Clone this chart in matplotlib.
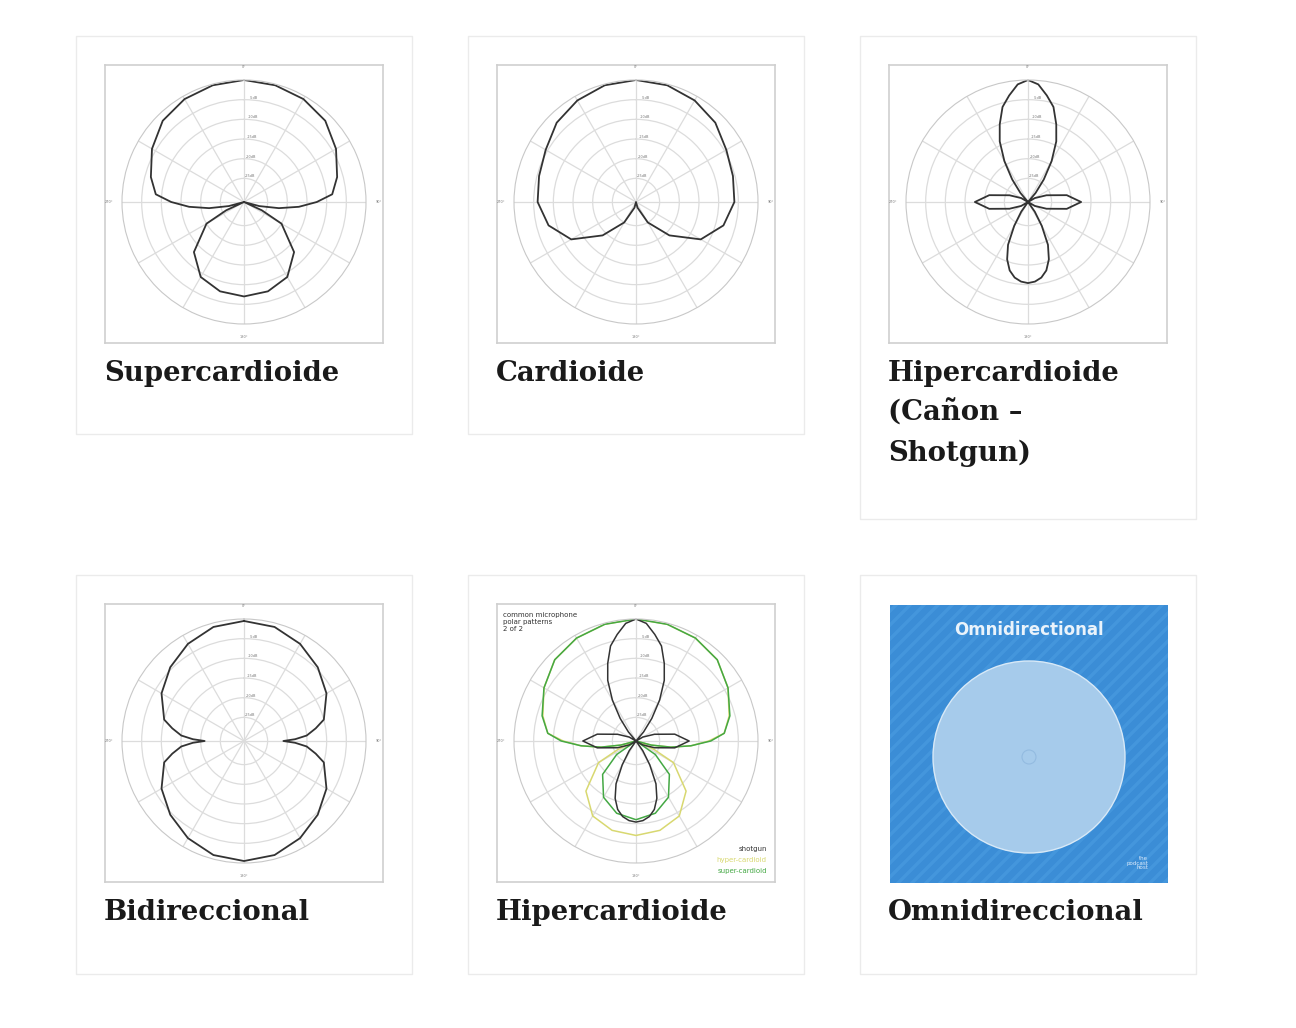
import numpy as np
import matplotlib.pyplot as plt
from matplotlib.patches import Rectangle, Circle

W, H = 1296, 1028

# polar patterns: angles (deg, 0..180, mirrored) and level in dB
super_ang = [0, 15, 30, 45, 60, 75, 85, 90, 95, 100, 105, 110, 115, 120, 135, 150, 165, 180]
super_db = [0, -0.3, -0.8, -1.8, -4, -6.5, -8.5, -12.5, -17, -22, -27, -31, -26, -20, -13, -9, -7.5, -7]

cardio_ang = [0, 15, 30, 45, 60, 75, 90, 105, 120, 135, 150, 165, 180]
cardio_db = [0, -0.3, -1.2, -2.5, -4.5, -5.5, -6, -8, -12, -19, -25, -29.5, -31]

shot_ang = [0, 5, 10, 15, 20, 25, 30, 35, 40, 45, 60, 70, 80, 90, 100, 110, 120, 135,
            140, 145, 150, 155, 160, 165, 170, 175, 180]
shot_db = [0, -1, -3.5, -6, -10, -14, -19, -24, -28, -31, -29, -26, -21, -17.5, -21, -26, -29, -31,
           -31, -28, -24, -19, -15.5, -13, -11.5, -10.7, -10.4]

bi_ang = [0, 15, 30, 45, 60, 75, 80, 85, 88, 90, 92, 95, 100, 105, 120, 135, 150, 165, 180]
bi_db = [-0.5, -1, -2.5, -4.5, -6.8, -10, -12.5, -15, -18, -21, -18, -15, -12.5, -10, -6.8, -4.5, -2.5, -1, -0.5]

green_ang = [0, 15, 30, 45, 60, 75, 85, 90, 95, 100, 105, 110, 115, 125, 135, 150, 165, 180]
green_db = [0, -0.3, -0.8, -1.8, -4, -6.3, -8.5, -12, -17, -22, -27, -31, -31, -25, -19, -14.5, -12, -11]

titles = ["Supercardioide", "Cardioide", "Hipercardioide\n(Cañon –\nShotgun)",
          "Bidireccional", "Hipercardioide", "Omnidireccional"]
card_x = [76, 468, 860]
card_y = [36, 575]
card_h = [[398, 398, 483], [399, 399, 399]]

omni_radius = 96

fig = plt.figure(figsize=(W / 100, H / 100), dpi=100)
fig.patch.set_facecolor("white")


def px_axes(x, y, w, h, **kw):
    return fig.add_axes([x / W, 1 - (y + h) / H, w / W, h / H], **kw)


def mirror(ang, db):
    a = np.deg2rad(np.array(ang, float))
    d = np.array(db, float)
    return np.concatenate([a, 2 * np.pi - a[::-1]]), np.concatenate([d, d[::-1]])


def polar_panel(ix, iy, patterns):
    x0 = card_x[ix] + 29
    y0 = card_y[iy] + 29
    box = px_axes(x0, y0, 278, 278)
    box.set_xticks([]); box.set_yticks([])
    for s in box.spines.values():
        s.set_color("#cfcfcf"); s.set_linewidth(1.2)
    ax = px_axes(x0 + 139 - 122, y0 + 137 - 122, 244, 244, projection="polar")
    ax.set_facecolor("none")
    ax.set_theta_zero_location("N")
    ax.set_theta_direction(-1)
    ax.set_ylim(-31, 0)
    ax.set_yticks([-25, -20, -15, -10, -5])
    ax.set_yticklabels(["-25dB", "-20dB", "-15dB", "-10dB", "-5dB"], fontsize=2.5, color="#777")
    ax.set_rlabel_position(3)
    ax.set_thetagrids(range(0, 360, 30),
                      ["0°", "", "", "90°", "", "", "180°", "", "", "270°", "", ""],
                      fontsize=2.5, color="#777")
    ax.tick_params(axis="x", pad=-1)
    ax.grid(color="#dcdcdc", lw=0.9)
    ax.spines["polar"].set_color("#c8c8c8")
    for ang, db, col, lw in patterns:
        t, r = mirror(ang, db)
        ax.plot(t, r, color=col, lw=lw, solid_joinstyle="round")
    return box


def card(ix, iy):
    x, y, h = card_x[ix], card_y[iy], card_h[iy][ix]
    fig.patches.append(Rectangle((x / W, 1 - (y + h) / H), 336 / W, h / H,
                                 transform=fig.transFigure, fc="white", ec="#ebebeb",
                                 lw=1, zorder=-10))
    txt = titles[iy * 3 + ix]
    fig.text((x + 28) / W, 1 - (y + 324) / H, txt, fontsize=19.8, fontweight="bold",
             family="DejaVu Serif", color="#1a1a1a", va="top", linespacing=1.6)


for iy in range(2):
    for ix in range(3):
        card(ix, iy)

k = "#333333"
polar_panel(0, 0, [(super_ang, super_db, k, 1.3)])
polar_panel(1, 0, [(cardio_ang, cardio_db, k, 1.3)])
polar_panel(2, 0, [(shot_ang, shot_db, k, 1.3)])
polar_panel(0, 1, [(bi_ang, bi_db, k, 1.3)])
box = polar_panel(1, 1, [(super_ang, super_db, "#d8d870", 1.1),
                         (green_ang, green_db, "#44a844", 1.1),
                         (shot_ang, shot_db, k, 1.1)])
box.text(0.02, 0.97, "common microphone\npolar patterns\n2 of 2", transform=box.transAxes,
         fontsize=5, va="top", ha="left", color="#333")
for i, (lab, col) in enumerate([("shotgun", "#333"), ("hyper-cardioid", "#d8d870"),
                                ("super-cardioid", "#44a844")]):
    box.text(0.97, 0.12 - i * 0.04, lab, transform=box.transAxes, fontsize=5,
             ha="right", va="center", color=col)

# omnidirectional picture
om = px_axes(890, 605, 278, 278)
om.set_xlim(0, 278); om.set_ylim(278, 0)
om.set_xticks([]); om.set_yticks([])
for s in om.spines.values():
    s.set_visible(False)
om.set_facecolor("#3b8dd6")
for d in range(-300, 300, 14):
    om.plot([d, d + 278], [278, 0], color="#4496dc", lw=2.5, zorder=0)
om.add_patch(Circle((139, 152), omni_radius, fc="#a6cbeb", ec="#d8e9f7", lw=1, zorder=2))
om.add_patch(Circle((139, 152), 7, fc="none", ec="#93bbe0", lw=0.8, zorder=3))
om.text(139, 25, "Omnidirectional", color="#eaf3fb", fontsize=12, fontweight="bold",
        ha="center", va="center", family="DejaVu Sans")
om.text(258, 258, "the\npodcast\nhost", color="#dceafa", fontsize=4, ha="right",
        va="center", linespacing=0.9)

fig.savefig("out.png", dpi=100, facecolor="white")
